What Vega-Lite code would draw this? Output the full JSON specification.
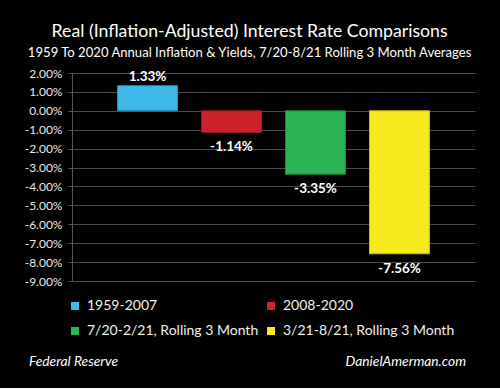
{
  "$schema": "https://vega.github.io/schema/vega-lite/v6.json",
  "background": "black",
  "padding": {"top": 23, "left": 24, "right": 25, "bottom": 16},
  "bounds": "flush",
  "title": {
    "text": "Real (Inflation-Adjusted) Interest Rate Comparisons",
    "subtitle": "1959 To 2020 Annual Inflation & Yields, 7/20-8/21 Rolling 3 Month Averages",
    "color": "white",
    "subtitleColor": "white",
    "font": "Lato",
    "subtitleFont": "Lato",
    "fontSize": 17.7,
    "subtitleFontSize": 13.1,
    "fontWeight": "normal",
    "subtitlePadding": 6,
    "offset": 7,
    "anchor": "middle",
    "frame": "bounds"
  },
  "config": {
    "view": {"stroke": null},
    "font": "Lato",
    "locale": {"number": {"decimal": ".", "thousands": ",", "grouping": [3], "currency": ["$", ""], "minus": "-"}}
  },
  "spacing": 71,
  "vconcat": [
    {
      "width": 403,
      "height": 208,
      "data": {
        "values": [
          {"period": "1959-2007", "rate": 0.0133},
          {"period": "2008-2020", "rate": -0.0114},
          {"period": "7/20-2/21, Rolling 3 Month", "rate": -0.0335},
          {"period": "3/21-8/21, Rolling 3 Month", "rate": -0.0756}
        ]
      },
      "encoding": {
        "x": {
          "field": "period",
          "type": "nominal",
          "sort": null,
          "scale": {"paddingInner": 0.286, "paddingOuter": 0.542},
          "axis": null
        },
        "y": {
          "field": "rate",
          "type": "quantitative",
          "scale": {"domain": [-0.09, 0.02], "nice": false, "zero": true},
          "axis": {
            "title": null,
            "format": ".2%",
            "values": [0.02, 0.01, 0, -0.01, -0.02, -0.03, -0.04, -0.05, -0.06, -0.07, -0.08, -0.09],
            "labelColor": "#e8e8e8",
            "labelFont": "Lato",
            "labelFontSize": 12,
            "labelPadding": 6,
            "tickSize": 4,
            "tickColor": "#555555",
            "domainColor": "#555555",
            "gridColor": "#4a4a4a",
            "grid": true
          }
        }
      },
      "layer": [
        {
          "mark": {"type": "bar", "strokeWidth": 1},
          "encoding": {
            "color": {
              "field": "period",
              "type": "nominal",
              "sort": null,
              "scale": {
                "domain": ["1959-2007", "2008-2020", "7/20-2/21, Rolling 3 Month", "3/21-8/21, Rolling 3 Month"],
                "range": ["#3fb8ea", "#cc2229", "#2cb457", "#f6ea1f"]
              },
              "legend": {
                "title": null,
                "orient": "none",
                "direction": "horizontal",
                "legendX": -4,
                "legendY": 226,
                "columns": 2,
                "columnPadding": 5,
                "rowPadding": 11,
                "padding": 0,
                "symbolType": "square",
                "symbolSize": 64,
                "symbolStrokeWidth": 0,
                "labelOffset": 5,
                "labelLimit": 300,
                "labelColor": "#f0f0f0",
                "labelFont": "Lato",
                "labelFontSize": 14
              }
            },
            "stroke": {
              "field": "period",
              "type": "nominal",
              "sort": null,
              "scale": {
                "domain": ["1959-2007", "2008-2020", "7/20-2/21, Rolling 3 Month", "3/21-8/21, Rolling 3 Month"],
                "range": ["#1f8fc4", "#9e1a20", "#1e8a42", "#c9bd10"]
              },
              "legend": null
            }
          }
        },
        {
          "transform": [{"filter": "datum.rate >= 0"}],
          "mark": {"type": "text", "baseline": "bottom", "dy": -2, "color": "white", "fontWeight": "bold", "fontSize": 13.5, "font": "Lato"},
          "encoding": {"text": {"field": "rate", "type": "quantitative", "format": ".2%"}}
        },
        {
          "transform": [{"filter": "datum.rate < 0"}],
          "mark": {"type": "text", "baseline": "top", "dy": 8, "color": "white", "fontWeight": "bold", "fontSize": 13.5, "font": "Lato"},
          "encoding": {"text": {"field": "rate", "type": "quantitative", "format": ".2%"}}
        }
      ]
    },
    {
      "width": 394,
      "height": 20,
      "data": {
        "values": [
          {"side": "left", "label": "Federal Reserve"},
          {"side": "right", "label": "DanielAmerman.com"}
        ]
      },
      "encoding": {
        "x": {
          "field": "side",
          "type": "nominal",
          "scale": {"type": "point", "padding": 0, "domain": ["left", "right"]},
          "axis": null
        },
        "text": {"field": "label", "type": "nominal"}
      },
      "layer": [
        {
          "transform": [{"filter": "datum.side == 'left'"}],
          "mark": {"type": "text", "align": "left", "dx": -43, "color": "white", "fontStyle": "italic", "fontSize": 13.8, "font": "Lato"}
        },
        {
          "transform": [{"filter": "datum.side == 'right'"}],
          "mark": {"type": "text", "align": "right", "color": "white", "fontStyle": "italic", "fontSize": 13.8, "font": "Lato"}
        }
      ]
    }
  ]
}
